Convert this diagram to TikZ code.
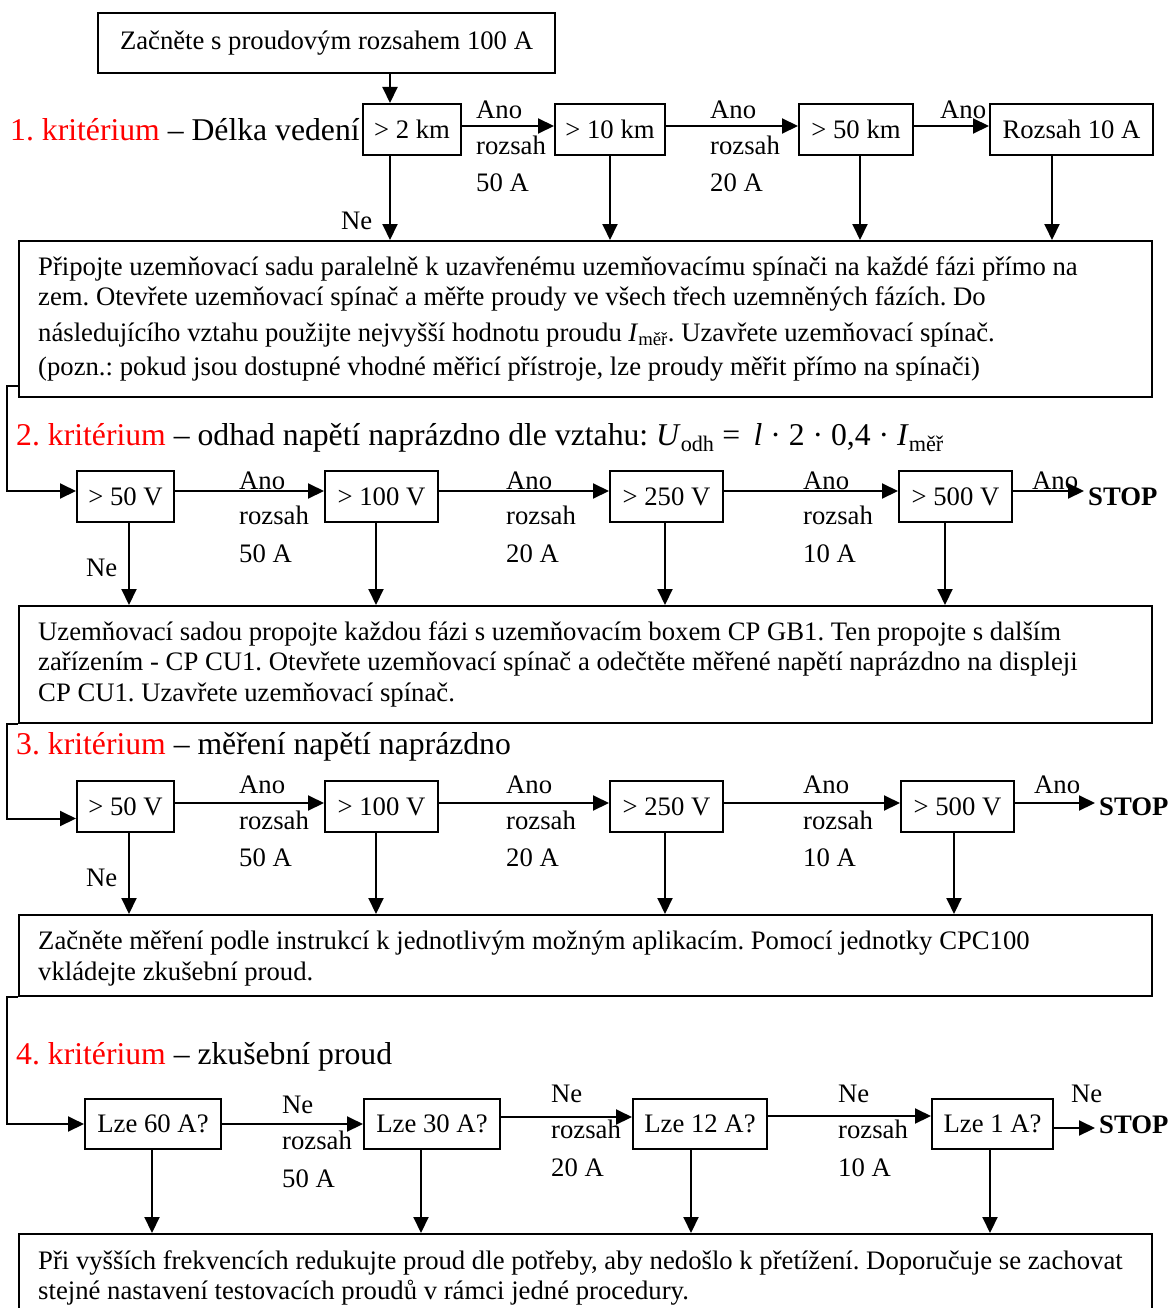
\documentclass[tikz,border=0pt]{standalone}
\usepackage{fontspec}
\setmainfont{Liberation Serif}
\usetikzlibrary{arrows.meta}
\newcommand\myfs{\fontsize{26.7}{30.5}\selectfont}
\newcommand\myfh{\fontsize{31.7}{36}\selectfont}
\newcommand\mysub[1]{\textsubscript{\upshape #1}}
\definecolor{krit}{RGB}{255,0,0}
\frenchspacing
\begin{document}
\begin{tikzpicture}[x=1pt,y=-1pt,
 box/.style={draw,line width=2pt,inner sep=0pt,minimum height=51pt,anchor=north west,font=\myfs},
 big/.style={draw,line width=2pt,inner sep=0pt,anchor=north west},
 arr/.style={line width=2pt,-{Triangle[length=16pt,width=15pt]}},
 lbl/.style={inner sep=0pt,anchor=base west,font=\myfs},
 body/.style={inner sep=0pt,anchor=base west,font=\myfs},
 head/.style={inner sep=0pt,anchor=base west,font=\myfh},
 stopn/.style={inner xsep=4pt,inner ysep=0pt,anchor=base west,font=\myfs\bfseries},
]
\useasboundingbox (0,0) rectangle (1171,1308);

% ---------- top ----------
\node[box,minimum width=457pt,minimum height=60pt] (s) at (97,12) {Začněte s proudovým rozsahem 100 A};

% ---------- row 1 ----------
\node[head] (h1) at (10,140.5) {\textcolor{krit}{1. kritérium} – Délka vedení};
\node[box,minimum width=98pt] (k1) at (362,103) {> 2 km};
\node[box,minimum width=110pt] (k2) at (554,103) {> 10 km};
\node[box,minimum width=114pt] (k3) at (798,103) {> 50 km};
\node[box,minimum width=163pt] (k4) at (989,103) {Rozsah 10 A};

\draw[arr] ([xshift=63.5pt]s.south) -- ([xshift=-22pt]k1.north);
\draw[arr] ([yshift=3.5pt]k1.east) -- ([yshift=3.5pt]k2.west);
\draw[arr] ([yshift=3.5pt]k2.east) -- ([yshift=3.5pt]k3.west);
\draw[arr] ([yshift=3.5pt]k3.east) -- ([yshift=3.5pt]k4.west);

\node[lbl] (k1a) at (476,119) {Ano};
\node[lbl] (k1r) at (476,155) {rozsah};
\node[lbl] (k1n) at (476,192) {50 A};
\node[lbl] (k2a) at (710,119) {Ano};
\node[lbl] (k2r) at (710,155) {rozsah};
\node[lbl] (k2n) at (710,192) {20 A};
\node[lbl] (k3a) at (940,119) {Ano};
\node[lbl] (k1ne) at (341,229) {Ne};

\node[big,minimum width=1133pt,minimum height=156pt] (b1) at (18,240) {};
\draw[arr] ([xshift=-22pt]k1.south) coordinate (t) -- (t |- b1.north);
\draw[arr] (k2.south) coordinate (t) -- (t |- b1.north);
\draw[arr] ([xshift=4pt]k3.south) coordinate (t) -- (t |- b1.north);
\draw[arr] ([xshift=-19.5pt]k4.south) coordinate (t) -- (t |- b1.north);

\node[body] (b1l1) at (38,275) {Připojte uzemňovací sadu paralelně k uzavřenému uzemňovacímu spínači na každé fázi přímo na};
\node[body] (b1l2) at (38,305) {zem. Otevřete uzemňovací spínač a měřte proudy ve všech třech uzemněných fázích. Do};
\node[body] (b1l3) at (38,341) {následujícího vztahu použijte nejvyšší hodnotu proudu \textit{I}\mysub{měř}. Uzavřete uzemňovací spínač.};
\node[body] (b1l4) at (38,375) {(pozn.: pokud jsou dostupné vhodné měřicí přístroje, lze proudy měřit přímo na spínači)};

% ---------- row 2 ----------
\node[head] (h2) at (16,445) {\textcolor{krit}{2. kritérium} – odhad napětí naprázdno dle vztahu: \textit{U}\mysub{odh}\ =\ \,\textit{l}\ ·\ 2\ ·\ 0,4\ ·\ \textit{I}\mysub{měř}};
\node[box,minimum width=97pt] (v1) at (76,470) {> 50 V};
\node[box,minimum width=113pt] (v2) at (324,470) {> 100 V};
\node[box,minimum width=113pt] (v3) at (609,470) {> 250 V};
\node[box,minimum width=113pt] (v4) at (898,470) {> 500 V};
\node[stopn] (st2) at (1084,505) {STOP};

\draw[arr] ([yshift=12pt]b1.south west) -- ++(-11,0) |- ([yshift=5.5pt]v1.west);
\draw[arr] ([yshift=5.5pt]v1.east) -- ([yshift=5.5pt]v2.west);
\draw[arr] ([yshift=5.5pt]v2.east) -- ([yshift=5.5pt]v3.west);
\draw[arr] ([yshift=5.5pt]v3.east) -- ([yshift=5.5pt]v4.west);
\draw[arr] ([yshift=5.5pt]v4.east) coordinate (t) -- (t -| st2.west);

\node[lbl] (v1a) at (239,489) {Ano};
\node[lbl] (v1r) at (239,524) {rozsah};
\node[lbl] (v1n) at (239,562) {50 A};
\node[lbl] (v2a) at (506,489) {Ano};
\node[lbl] (v2r) at (506,524) {rozsah};
\node[lbl] (v2n) at (506,562) {20 A};
\node[lbl] (v3a) at (803,489) {Ano};
\node[lbl] (v3r) at (803,524) {rozsah};
\node[lbl] (v3n) at (803,562) {10 A};
\node[lbl] (v4a) at (1032,489) {Ano};
\node[lbl] (v1ne) at (86,576) {Ne};

\node[big,minimum width=1133pt,minimum height=117pt] (b2) at (18,605) {};
\draw[arr] ([xshift=3.5pt]v1.south) coordinate (t) -- (t |- b2.north);
\draw[arr] ([xshift=-5.5pt]v2.south) coordinate (t) -- (t |- b2.north);
\draw[arr] ([xshift=-1.5pt]v3.south) coordinate (t) -- (t |- b2.north);
\draw[arr] ([xshift=-10.5pt]v4.south) coordinate (t) -- (t |- b2.north);

\node[body] (b2l1) at (38,640) {Uzemňovací sadou propojte každou fázi s uzemňovacím boxem CP GB1. Ten propojte s dalším};
\node[body] (b2l2) at (38,670) {zařízením - CP CU1. Otevřete uzemňovací spínač a odečtěte měřené napětí naprázdno na displeji};
\node[body] (b2l3) at (38,701) {CP CU1. Uzavřete uzemňovací spínač.};

% ---------- row 3 ----------
\node[head] (h3) at (16,754) {\textcolor{krit}{3. kritérium} – měření napětí naprázdno};
\node[box,minimum width=97pt] (w1) at (76,780) {> 50 V};
\node[box,minimum width=113pt] (w2) at (324,780) {> 100 V};
\node[box,minimum width=113pt] (w3) at (609,780) {> 250 V};
\node[box,minimum width=113pt] (w4) at (900,780) {> 500 V};
\node[stopn] (st3) at (1095,815) {STOP};

\draw[arr] (b2.south west) -- ++(-11,0) |- ([yshift=-12pt]w1.west);
\draw[arr] ([yshift=3.5pt]w1.east) -- ([yshift=3.5pt]w2.west);
\draw[arr] ([yshift=3.5pt]w2.east) -- ([yshift=3.5pt]w3.west);
\draw[arr] ([yshift=3.5pt]w3.east) -- ([yshift=3.5pt]w4.west);
\draw[arr] ([yshift=3.5pt]w4.east) coordinate (t) -- (t -| st3.west);

\node[lbl] (w1a) at (239,793) {Ano};
\node[lbl] (w1r) at (239,829) {rozsah};
\node[lbl] (w1n) at (239,866) {50 A};
\node[lbl] (w2a) at (506,793) {Ano};
\node[lbl] (w2r) at (506,829) {rozsah};
\node[lbl] (w2n) at (506,866) {20 A};
\node[lbl] (w3a) at (803,793) {Ano};
\node[lbl] (w3r) at (803,829) {rozsah};
\node[lbl] (w3n) at (803,866) {10 A};
\node[lbl] (w4a) at (1034,793) {Ano};
\node[lbl] (w1ne) at (86,886) {Ne};

\node[big,minimum width=1133pt,minimum height=81pt] (b3) at (18,914) {};
\draw[arr] ([xshift=3.5pt]w1.south) coordinate (t) -- (t |- b3.north);
\draw[arr] ([xshift=-5.5pt]w2.south) coordinate (t) -- (t |- b3.north);
\draw[arr] ([xshift=-1.5pt]w3.south) coordinate (t) -- (t |- b3.north);
\draw[arr] ([xshift=-3.5pt]w4.south) coordinate (t) -- (t |- b3.north);

\node[body] (b3l1) at (38,949) {Začněte měření podle instrukcí k jednotlivým možným aplikacím. Pomocí jednotky CPC100};
\node[body] (b3l2) at (38,980) {vkládejte zkušební proud.};

% ---------- row 4 ----------
\node[head] (h4) at (16,1064) {\textcolor{krit}{4. kritérium} – zkušební proud};
\node[box,minimum width=136pt,minimum height=50pt] (z1) at (84,1098) {Lze 60 A?};
\node[box,minimum width=136pt,minimum height=50pt] (z2) at (363,1098) {Lze 30 A?};
\node[box,minimum width=134pt,minimum height=50pt] (z3) at (632,1098) {Lze 12 A?};
\node[box,minimum width=121pt,minimum height=50pt] (z4) at (931,1098) {Lze 1 A?};
\node[stopn] (st4) at (1095,1133) {STOP};

\draw[arr] (b3.south west) -- ++(-11,0) |- (z1.west);
\draw[arr] (z1.east) -- (z2.west);
\draw[arr] ([yshift=7pt]z2.east) -- ([yshift=7pt]z3.west);
\draw[arr] ([yshift=8pt]z3.east) -- ([yshift=8pt]z4.west);
\draw[arr] ([yshift=-4pt]z4.east) coordinate (t) -- (t -| st4.west);

\node[lbl] (z1a) at (282,1113) {Ne};
\node[lbl] (z1r) at (282,1149) {rozsah};
\node[lbl] (z1n) at (282,1187) {50 A};
\node[lbl] (z2a) at (551,1102) {Ne};
\node[lbl] (z2r) at (551,1138) {rozsah};
\node[lbl] (z2n) at (551,1176) {20 A};
\node[lbl] (z3a) at (838,1102) {Ne};
\node[lbl] (z3r) at (838,1138) {rozsah};
\node[lbl] (z3n) at (838,1176) {10 A};
\node[lbl] (z4a) at (1071,1102) {Ne};

\node[big,minimum width=1133pt,minimum height=95pt] (b4) at (18,1233) {};
\draw[arr] ([xshift=-1pt]z1.south) coordinate (t) -- (t |- b4.north);
\draw[arr] ([xshift=-11pt]z2.south) coordinate (t) -- (t |- b4.north);
\draw[arr] ([xshift=-9pt]z3.south) coordinate (t) -- (t |- b4.north);
\draw[arr] ([xshift=-2.5pt]z4.south) coordinate (t) -- (t |- b4.north);

\node[body] (b4l1) at (38,1269) {Při vyšších frekvencích redukujte proud dle potřeby, aby nedošlo k přetížení. Doporučuje se zachovat};
\node[body] (b4l2) at (38,1299) {stejné nastavení testovacích proudů v rámci jedné procedury.};
\end{tikzpicture}
\end{document}
